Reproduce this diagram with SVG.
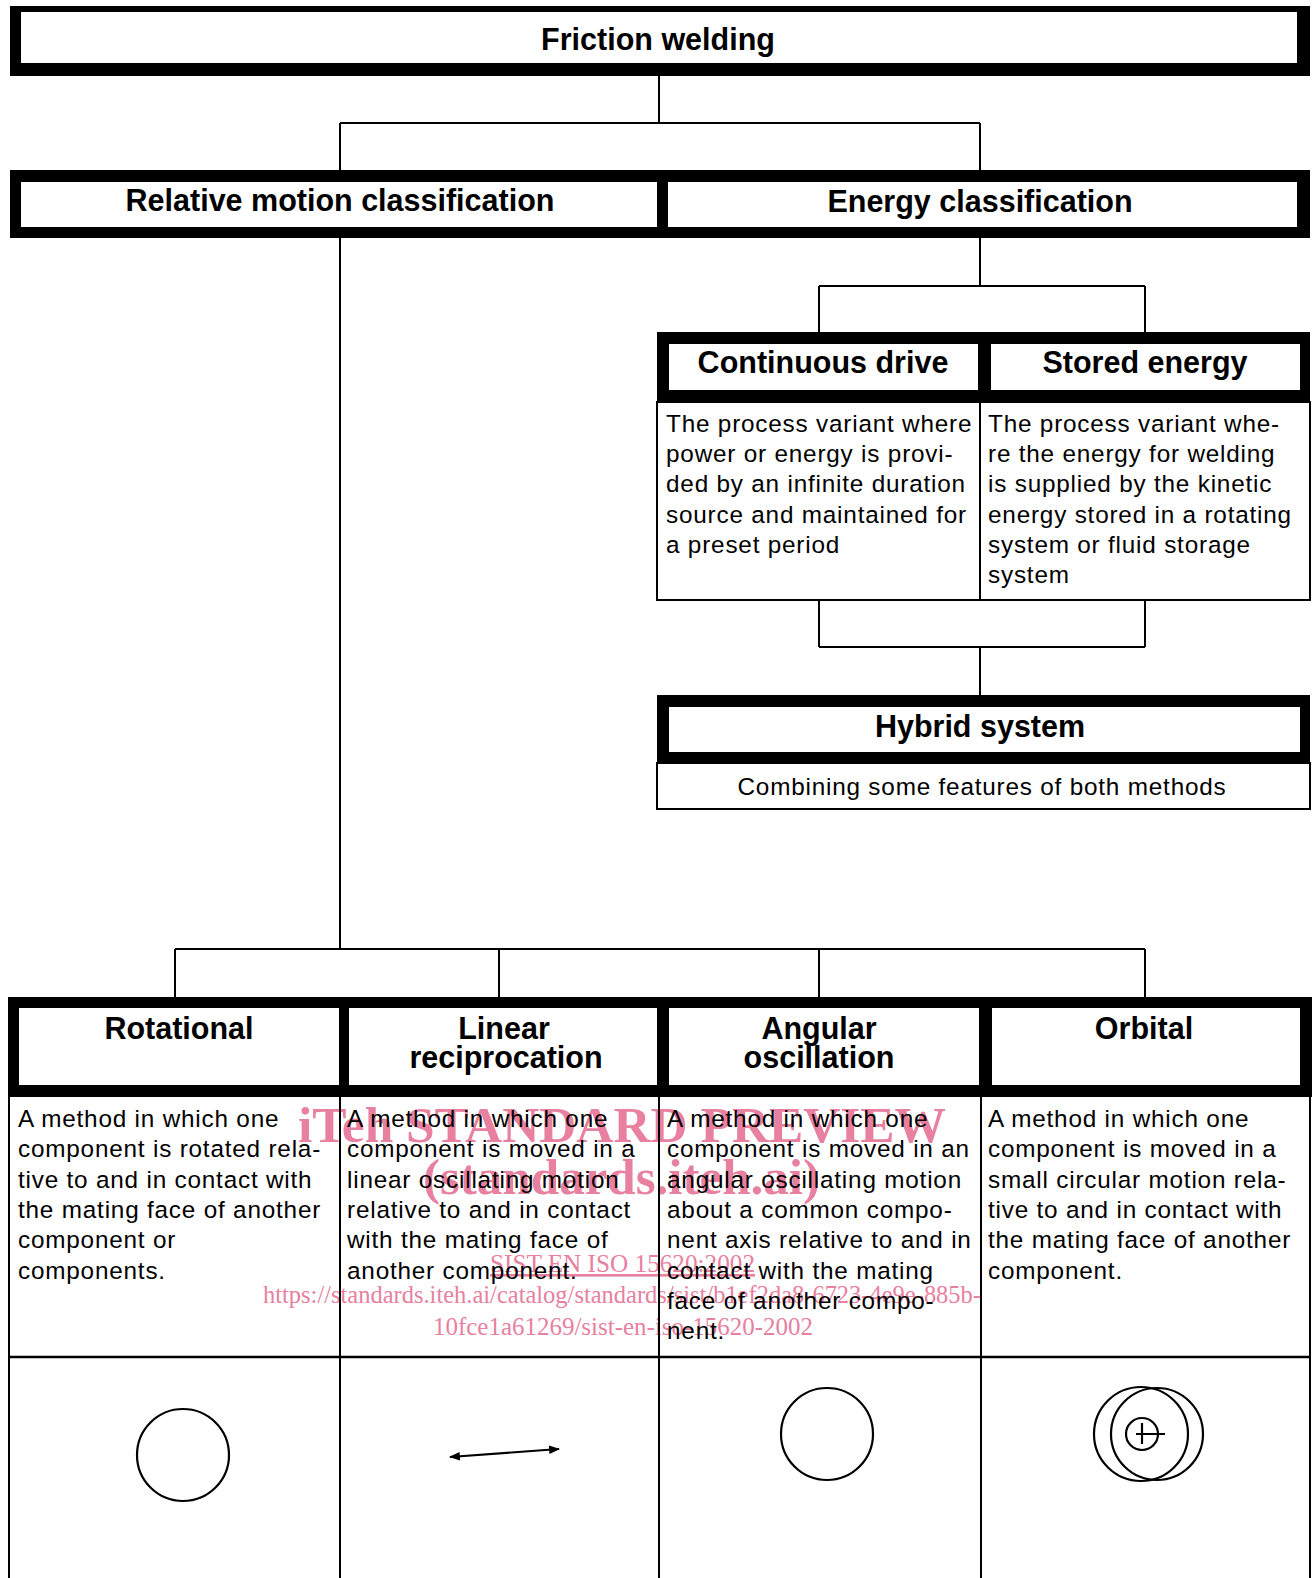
<svg xmlns="http://www.w3.org/2000/svg" width="1316" height="1578" viewBox="0 0 1316 1578">
<style>
.bg{fill:#fff}
.blk{fill:#000}
.cell{fill:#fff}
.thin{fill:#fff;stroke:#000;stroke-width:2}
.ln{stroke:#000;stroke-width:2;fill:none}
.h{font-family:"Liberation Sans",Arial,sans-serif;font-weight:bold;font-size:30.5px;fill:#000;text-anchor:middle}
.b{font-family:"Liberation Sans",Arial,sans-serif;font-size:24.3px;letter-spacing:0.8px;fill:#000}
.wm{font-family:"Liberation Serif","Times New Roman",serif;fill:#e8809f}
.sym{stroke:#000;stroke-width:2.2;fill:none}
</style>
<defs>
<marker id="ah" viewBox="0 0 10 10" refX="9" refY="5" markerWidth="5" markerHeight="5" orient="auto-start-reverse" markerUnits="strokeWidth">
<path d="M0,1 L10,5 L0,9 z" fill="#000"/>
</marker>
</defs>
<rect class="bg" x="0" y="0" width="1316" height="1578"/>

<g id="connectors">
<path class="ln" d="M659,76 V123 M340,123 H980 M340,123 V170 M980,123 V170"/>
<path class="ln" d="M980,238 V286 M819,286 H1145 M819,286 V332 M1145,286 V332"/>
<path class="ln" d="M819,600 V647 M1145,600 V647 M819,647 H1145 M980,647 V695"/>
<path class="ln" d="M340,238 V949 M175,949 H1145 M175,949 V997 M499,949 V997 M819,949 V997 M1145,949 V997"/>
</g>

<g id="friction-welding">
<rect class="blk" x="10" y="6" width="1300" height="70"/>
<rect class="cell" x="21" y="12" width="1276" height="51"/>
<text class="h" x="658" y="50">Friction welding</text>
</g>

<g id="relative-motion">
<rect class="blk" x="10" y="170" width="653" height="68"/>
<rect class="cell" x="21" y="182" width="636" height="45"/>
<text class="h" x="340" y="211">Relative motion classification</text>
</g>

<g id="energy">
<rect class="blk" x="657" y="170" width="653" height="68"/>
<rect class="cell" x="668" y="182" width="629" height="45"/>
<text class="h" x="980" y="212">Energy classification</text>
</g>

<g id="continuous-drive">
<rect class="blk" x="657" y="332" width="329" height="70"/>
<rect class="cell" x="669" y="344" width="309" height="46"/>
<text class="h" x="823" y="373">Continuous drive</text>
<rect class="thin" x="657" y="402" width="323" height="198"/>
<text class="b" x="666" y="432">The process variant where</text>
<text class="b" x="666" y="462">power or energy is provi-</text>
<text class="b" x="666" y="492">ded by an infinite duration</text>
<text class="b" x="666" y="523">source and maintained for</text>
<text class="b" x="666" y="553">a preset period</text>
</g>

<g id="stored-energy">
<rect class="blk" x="978" y="332" width="332" height="70"/>
<rect class="cell" x="991" y="344" width="309" height="46"/>
<text class="h" x="1145" y="373">Stored energy</text>
<rect class="thin" x="980" y="402" width="330" height="198"/>
<text class="b" x="988" y="432">The process variant whe-</text>
<text class="b" x="988" y="462">re the energy for welding</text>
<text class="b" x="988" y="492">is supplied by the kinetic</text>
<text class="b" x="988" y="523">energy stored in a rotating</text>
<text class="b" x="988" y="553">system or fluid storage</text>
<text class="b" x="988" y="583">system</text>
</g>

<g id="hybrid-system">
<rect class="blk" x="657" y="695" width="653" height="68"/>
<rect class="cell" x="669" y="707" width="631" height="45"/>
<text class="h" x="980" y="737">Hybrid system</text>
<rect class="thin" x="657" y="763" width="653" height="46"/>
<text class="b" x="982" y="795" text-anchor="middle">Combining some features of both methods</text>
</g>

<g id="watermark">
<text class="wm" x="298" y="1142" font-size="51" font-weight="bold" textLength="648" lengthAdjust="spacingAndGlyphs">iTeh STANDARD PREVIEW</text>
<text class="wm" x="423" y="1194" font-size="51" font-weight="bold" textLength="397" lengthAdjust="spacingAndGlyphs">(standards.iteh.ai)</text>
<text class="wm" x="490" y="1272" font-size="26" textLength="265" lengthAdjust="spacingAndGlyphs" text-decoration="underline">SIST EN ISO 15620:2002</text>
<text class="wm" x="263" y="1303" font-size="26" textLength="718" lengthAdjust="spacingAndGlyphs">https://standards.iteh.ai/catalog/standards/sist/b1ef2da8-6723-4e9e-885b-</text>
<text class="wm" x="433" y="1335" font-size="26" textLength="380" lengthAdjust="spacingAndGlyphs">10fce1a61269/sist-en-iso-15620-2002</text>
</g>

<g id="bottom-frame">
<rect class="blk" x="8" y="997" width="1304" height="100"/>
<path class="ln" d="M9,1097 V1578 M1310,1097 V1578 M340,1097 V1578 M659,1097 V1578 M981,1097 V1578"/>
<path d="M9,1357 H1310" stroke="#000" stroke-width="2.5"/>
</g>

<g id="rotational">
<rect class="cell" x="19" y="1008" width="320" height="77"/>
<text class="h" x="179" y="1039">Rotational</text>
<text class="b" x="18" y="1127">A method in which one</text>
<text class="b" x="18" y="1157">component is rotated rela-</text>
<text class="b" x="18" y="1188">tive to and in contact with</text>
<text class="b" x="18" y="1218">the mating face of another</text>
<text class="b" x="18" y="1248">component or</text>
<text class="b" x="18" y="1279">components.</text>
<circle class="sym" cx="183" cy="1455" r="46"/>
</g>

<g id="linear-reciprocation">
<rect class="cell" x="349" y="1008" width="308" height="77"/>
<text class="h" x="504" y="1039">Linear</text>
<text class="h" x="506" y="1068">reciprocation</text>
<text class="b" x="347" y="1127">A method in which one</text>
<text class="b" x="347" y="1157">component is moved in a</text>
<text class="b" x="347" y="1188">linear oscillating motion</text>
<text class="b" x="347" y="1218">relative to and in contact</text>
<text class="b" x="347" y="1248">with the mating face of</text>
<text class="b" x="347" y="1279">another component.</text>
<line class="sym" x1="450" y1="1457" x2="559" y2="1449" marker-start="url(#ah)" marker-end="url(#ah)"/>
</g>

<g id="angular-oscillation">
<rect class="cell" x="669" y="1008" width="310" height="77"/>
<text class="h" x="819" y="1039">Angular</text>
<text class="h" x="819" y="1068">oscillation</text>
<text class="b" x="667" y="1127">A method in which one</text>
<text class="b" x="667" y="1157">component is moved in an</text>
<text class="b" x="667" y="1188">angular oscillating motion</text>
<text class="b" x="667" y="1218">about a common compo-</text>
<text class="b" x="667" y="1248">nent axis relative to and in</text>
<text class="b" x="667" y="1279">contact with the mating</text>
<text class="b" x="667" y="1309">face of another compo-</text>
<text class="b" x="667" y="1339">nent.</text>
<circle class="sym" cx="827" cy="1434" r="46"/>
</g>

<g id="orbital">
<rect class="cell" x="992" y="1008" width="308" height="77"/>
<text class="h" x="1144" y="1039">Orbital</text>
<text class="b" x="988" y="1127">A method in which one</text>
<text class="b" x="988" y="1157">component is moved in a</text>
<text class="b" x="988" y="1188">small circular motion rela-</text>
<text class="b" x="988" y="1218">tive to and in contact with</text>
<text class="b" x="988" y="1248">the mating face of another</text>
<text class="b" x="988" y="1279">component.</text>
<circle class="sym" cx="1141" cy="1434" r="47"/>
<circle class="sym" cx="1157" cy="1434" r="46"/>
<circle class="sym" cx="1142" cy="1434" r="16"/>
<path class="sym" d="M1136,1434 H1165 M1142,1423 V1444"/>
</g>
</svg>
